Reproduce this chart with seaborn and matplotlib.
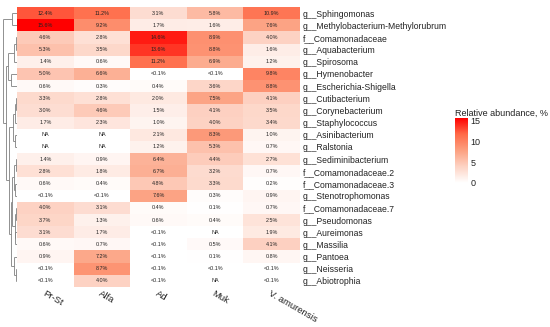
import numpy as np
import pandas as pd
import matplotlib
matplotlib.use("Agg")
import matplotlib.pyplot as plt
from matplotlib.colors import LinearSegmentedColormap
import seaborn as sns

# samples (columns) and taxa (rows)
samples = ["Pr-St", "Alfa", "Ad", "Muk", "V. amurensis"]
taxa = [
    "g__Sphingomonas", "g__Methylobacterium-Methylorubrum", "f__Comamonadaceae",
    "g__Aquabacterium", "g__Spirosoma", "g__Hymenobacter", "g__Escherichia-Shigella",
    "g__Cutibacterium", "g__Corynebacterium", "g__Staphylococcus", "g__Asinibacterium",
    "g__Ralstonia", "g__Sediminibacterium", "f__Comamonadaceae.2", "f__Comamonadaceae.3",
    "g__Stenotrophomonas", "f__Comamonadaceae.7", "g__Pseudomonas", "g__Aureimonas",
    "g__Massilia", "g__Pantoea", "g__Neisseria", "g__Abiotrophia",
]

# relative abundance, %  (None = NA, 0.05 stands for "<0.1")
pr_st = [12.4, 15.6, 4.6, 5.3, 1.4, 5.0, 0.6, 3.3, 3.0, 1.7, None, None, 1.4, 2.8, 0.6,
         0.05, 4.0, 3.7, 3.1, 0.6, 0.9, 0.05, 0.05]
alfa = [11.2, 9.2, 2.8, 3.5, 0.6, 6.6, 0.3, 2.8, 4.6, 2.3, None, None, 0.9, 1.8, 0.4,
        0.05, 3.1, 1.3, 1.7, 0.7, 7.2, 8.7, 4.0]
ad = [3.1, 1.7, 14.6, 13.6, 11.2, 0.05, 0.4, 2.0, 1.5, 1.0, 2.1, 1.2, 6.4, 6.7, 4.8,
      7.6, 0.4, 0.6, 0.05, 0.05, 0.05, 0.05, 0.05]
muk = [5.8, 1.6, 8.9, 8.8, 6.9, 0.05, 3.6, 7.5, 4.1, 4.0, 8.3, 5.3, 4.4, 3.2, 3.3,
       0.3, 0.1, 0.4, None, 0.5, 0.1, 0.05, None]
v_amurensis = [10.9, 7.6, 4.0, 1.6, 1.2, 9.8, 8.8, 4.1, 3.5, 3.4, 1.0, 0.7, 2.7, 0.7, 0.2,
               0.9, 0.7, 2.5, 1.9, 4.1, 0.8, 0.05, 0.05]

# row clustering tree: (left, right, height), leaves are row indices
row_tree = (
    (0, 1, 0.36),
    (
        (((2, 3, 0.10), 4, 0.20), (5, 6, 0.42), 0.62),
        (
            (((7, 8, 0.10), 9, 0.16), (10, 11, 0.12), 0.30),
            (
                (((12, 13, 0.08), (14, 15, 0.14), 0.18),
                 ((16, 17, 0.08), (18, 19, 0.12), 0.16), 0.34),
                (20, (21, 22, 0.10), 0.24),
                0.45,
            ),
            0.55,
        ),
        0.82,
    ),
    1.0,
)

df = pd.DataFrame({"Pr-St": pr_st, "Alfa": alfa, "Ad": ad, "Muk": muk,
                   "V. amurensis": v_amurensis}, index=taxa, dtype=float)


def cell_label(v):
    if np.isnan(v):
        return "NA"
    if v < 0.1:
        return "<0.1%"
    return f"{v:.1f}%"


sns.set_style("white")
plt.rcParams["font.family"] = ["Liberation Sans", "DejaVu Sans"]

cmap = LinearSegmentedColormap.from_list(
    "abund", ["#FFFFFF", "#FDD3C4", "#FCA080", "#FF6A48", "#FF0000"])

fig = plt.figure(figsize=(5.5, 3.27), dpi=100)
W, H = 550, 327
ax = fig.add_axes([17 / W, (H - 287) / H, 283 / W, 280 / H])
cax = fig.add_axes([455 / W, (H - 183) / H, 13 / W, 65 / H])
dax = fig.add_axes([2 / W, (H - 287) / H, 15 / W, 280 / H])

sns.heatmap(df, ax=ax, cmap=cmap, vmin=0, vmax=df.max().max(), cbar_ax=cax,
            linewidths=0, xticklabels=True, yticklabels=True)

# cell texts (also for NA cells)
for i in range(df.shape[0]):
    for j in range(df.shape[1]):
        ax.text(j + 0.5, i + 0.5, cell_label(df.iat[i, j]), ha="center", va="center",
                fontsize=3.9, color="#222222")

ax.yaxis.tick_right()
ax.set_yticklabels(taxa, rotation=0, fontsize=6.2, color="#222222")
ax.set_xticklabels(samples, rotation=-30, ha="left", rotation_mode="anchor",
                   fontsize=6.8, color="#222222")
ax.tick_params(axis="y", length=0, pad=2)
ax.tick_params(axis="x", length=0, pad=1.5)
ax.set_xlabel("")
ax.set_ylabel("")

# colorbar
cbar = ax.collections[0].colorbar
cbar.outline.set_visible(False)
cbar.set_ticks([0, 5, 10, 15])
cax.tick_params(length=0, labelsize=6.5, pad=2, labelcolor="#222222")
cax.set_title("Relative abundance, %", loc="left", fontsize=6.5, pad=1,
              color="#222222")


# dendrogram
def draw(node):
    if isinstance(node, int):
        return node + 0.5, 0.0
    left, right, h = node
    yl, hl = draw(left)
    yr, hr = draw(right)
    kw = dict(color="#7f7f7f", lw=0.6, solid_capstyle="butt")
    dax.plot([hl, h], [yl, yl], **kw)
    dax.plot([hr, h], [yr, yr], **kw)
    dax.plot([h, h], [yl, yr], **kw)
    return (yl + yr) / 2, h


draw(row_tree)
dax.set_ylim(len(taxa), 0)
dax.set_xlim(1.07, 0)
dax.axis("off")

fig.savefig("out.png", dpi=100)
